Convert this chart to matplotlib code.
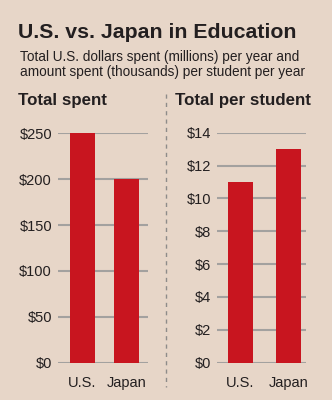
import matplotlib.pyplot as plt
from matplotlib.lines import Line2D

plt.rcParams["font.family"] = ["Liberation Sans", "DejaVu Sans"]

categories = ["U.S.", "Japan"]
total_spent = [250, 200]  # millions
per_student = [11, 13]  # thousands
spent_ticks = [0, 50, 100, 150, 200, 250]
student_ticks = [0, 2, 4, 6, 8, 10, 12, 14]

BG = "#E7D6C8"
RED = "#C8151F"
GRID = "#A3A19F"
INK = "#231F20"

W, H = 332, 400
fig = plt.figure(figsize=(W / 100, H / 100), dpi=100, facecolor=BG)


def px_axes(x0, y0, x1, y1):
    # pixel box measured from top-left
    return fig.add_axes([x0 / W, 1 - y1 / H, (x1 - x0) / W, (y1 - y0) / H])


def style(ax, ticks, xlim, ylim):
    ax.set_facecolor("none")
    for s in ax.spines.values():
        s.set_visible(False)
    ax.set_ylim(*ylim)
    ax.set_xlim(*xlim)
    ax.set_yticks(ticks)
    ax.set_yticklabels([f"${t}" for t in ticks])
    ax.yaxis.grid(True, color=GRID, lw=1.5)
    ax.set_axisbelow(True)
    ax.tick_params(axis="y", length=0, pad=4.3, labelsize=10.5, labelcolor=INK)
    ax.tick_params(axis="x", length=0, pad=9.5, labelsize=10.5, labelcolor=INK)
    ax.set_xticks(range(len(categories)))
    ax.set_xticklabels(categories)


ax1 = px_axes(58, 133.3, 148, 362.7)
ax1.bar(range(len(categories)), total_spent, width=0.57, color=RED)
style(ax1, spent_ticks, (-0.557, 1.489), (0, 250))

ax2 = px_axes(217.3, 132.7, 306, 362.7)
ax2.bar(range(len(categories)), per_student, width=0.52, color=RED)
style(ax2, student_ticks, (-0.477, 1.371), (0, 14))

fig.text(18 / W, 1 - 33 / H, "U.S. vs. Japan in Education", fontsize=15.3,
         fontweight="bold", color=INK, va="center", ha="left")
fig.text(20.5 / W, 1 - 57 / H, "Total U.S. dollars spent (millions) per year and",
         fontsize=9.8, color=INK, va="center", ha="left")
fig.text(20.5 / W, 1 - 72 / H, "amount spent (thousands) per student per year",
         fontsize=9.8, color=INK, va="center", ha="left")
fig.text(18 / W, 1 - 100 / H, "Total spent", fontsize=12.2, fontweight="bold",
         color=INK, va="center", ha="left")
fig.text(175 / W, 1 - 100 / H, "Total per student", fontsize=12.2,
         fontweight="bold", color=INK, va="center", ha="left")

fig.add_artist(Line2D([166 / W, 166 / W], [1 - 94 / H, 1 - 387 / H],
                      color="#8E8C8A", lw=1, ls=(0, (3, 3))))

fig.savefig("out.png", dpi=100, facecolor=BG)
